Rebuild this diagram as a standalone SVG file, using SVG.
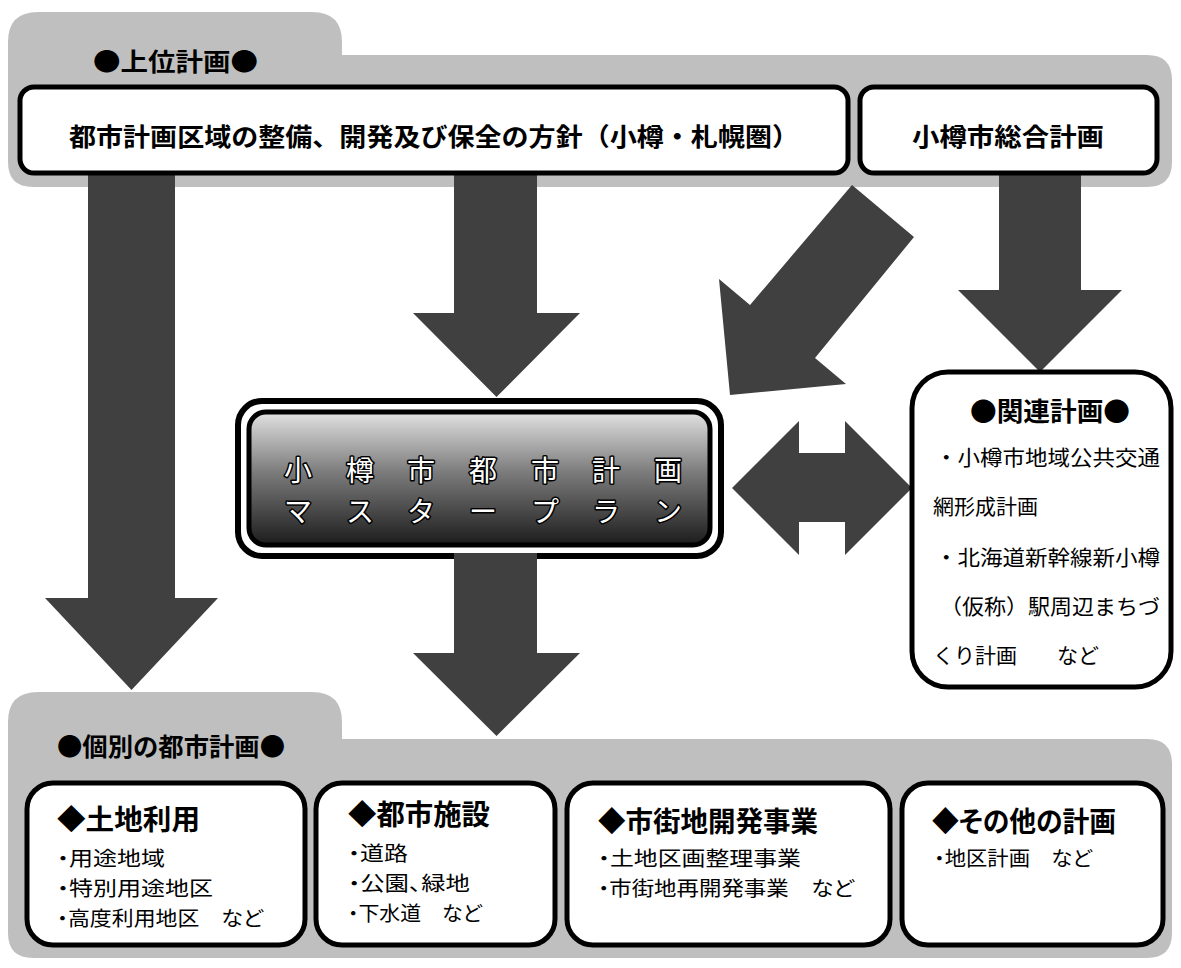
<svg xmlns="http://www.w3.org/2000/svg" width="1181" height="968" viewBox="0 0 1181 968">
<defs>
<style>
.t{font-family:"Noto Sans CJK JP","Noto Sans",sans-serif;fill:#000}
.b{font-weight:bold}
.p{font-feature-settings:"palt"}
.s{font-size:20.5px}
.panel{fill:#bfbfbf}
.box{fill:#fff;stroke:#000;stroke-width:5}
.arr{fill:#404040}
.mp{font-family:"Noto Sans CJK JP",sans-serif;font-size:28px;fill:#fff;stroke:#000;stroke-width:3;paint-order:stroke;stroke-linejoin:round;text-anchor:middle}
</style>
<linearGradient id="g" x1="0" y1="0" x2="0" y2="1">
<stop offset="0" stop-color="#e2e2e2"/>
<stop offset="0.45" stop-color="#7c7c7c"/>
<stop offset="1" stop-color="#1c1c1c"/>
</linearGradient>
</defs>
<rect width="1181" height="968" fill="#fff"/>

<g id="upper">
<path class="panel" d="M8,42 Q8,12 38,12 L312,12 Q342,12 342,42 L342,55 L1147,55 Q1172,55 1172,80 L1172,162 Q1172,187 1147,187 L33,187 Q8,187 8,162 Z"/>
<text class="t b" x="93" y="71" font-size="25" textLength="165" lengthAdjust="spacingAndGlyphs">●上位計画●</text>
</g>

<g id="lower">
<path class="panel" d="M8,722 Q8,692 38,692 L312,692 Q342,692 342,722 L342,739 L1147,739 Q1172,739 1172,764 L1172,933 Q1172,958 1147,958 L33,958 Q8,958 8,933 Z"/>
<text class="t b" x="57" y="756" font-size="25" textLength="228" lengthAdjust="spacingAndGlyphs">●個別の都市計画●</text>
</g>

<g id="connectors">
<polygon class="arr" points="88,172 175,172 175,598 218,598 131.5,690 45,598 88,598"/>
<polygon class="arr" points="454,172 537,172 537,313 580,313 496.5,397 413,313 454,313"/>
<polygon class="arr" points="999,172 1081,172 1081,290 1122,290 1040,372 958,290 999,290"/>
<polygon class="arr" points="852,185 914,237 815,358 846,384 730,395 719,279 750,305"/>
<polygon class="arr" points="732,488 799,421 799,453 845,453 845,421 912,488 845,555 845,522 799,522 799,555"/>
</g>

<g id="toshikeikaku-houshin">
<rect class="box" x="20" y="87" width="828" height="86" rx="14"/>
<text class="t b" x="434" y="146" font-size="25" text-anchor="middle" textLength="730" lengthAdjust="spacingAndGlyphs">都市計画区域の整備、開発及び保全の方針（小樽・札幌圏）</text>
</g>

<g id="sougou-keikaku">
<rect class="box" x="860" y="87" width="297" height="86" rx="14"/>
<text class="t b" x="1008" y="146" font-size="25" text-anchor="middle" textLength="192" lengthAdjust="spacingAndGlyphs">小樽市総合計画</text>
</g>

<g id="master-plan">
<rect x="238" y="401" width="483" height="155" rx="24" fill="#fff" stroke="#000" stroke-width="6"/>
<rect x="249" y="412" width="461" height="133" rx="17" fill="url(#g)" stroke="#000" stroke-width="5"/>
<text class="mp" y="481"><tspan x="298">小</tspan><tspan x="360">樽</tspan><tspan x="421">市</tspan><tspan x="483">都</tspan><tspan x="545">市</tspan><tspan x="606">計</tspan><tspan x="668">画</tspan></text>
<text class="mp" y="522"><tspan x="298">マ</tspan><tspan x="360">ス</tspan><tspan x="421">タ</tspan><tspan x="483">ー</tspan><tspan x="545">プ</tspan><tspan x="606">ラ</tspan><tspan x="668">ン</tspan></text>
</g>

<polygon class="arr" points="454,553 537,553 537,653 580,653 496.5,736 413,653 454,653"/>

<g id="kanren-keikaku">
<rect class="box" x="912" y="372" width="259" height="315" rx="36"/>
<text class="t b" x="1050" y="421" font-size="26" text-anchor="middle" textLength="160" lengthAdjust="spacingAndGlyphs">●関連計画●</text>
<text class="t" x="935" y="465" font-size="21" textLength="225" lengthAdjust="spacingAndGlyphs">・小樽市地域公共交通</text>
<text class="t" x="933" y="514" font-size="21">網形成計画</text>
<text class="t" x="935" y="565" font-size="21" textLength="225" lengthAdjust="spacingAndGlyphs">・北海道新幹線新小樽</text>
<text class="t" x="940" y="614" font-size="21" textLength="220" lengthAdjust="spacingAndGlyphs">（仮称）駅周辺まちづ</text>
<text class="t" x="933" y="663" font-size="21">くり計画<tspan x="1057">など</tspan></text>
</g>

<g id="tochi-riyou">
<rect class="box" x="27" y="783" width="278" height="162" rx="26"/>
<text class="t b p" x="57" y="830" font-size="28" textLength="143" lengthAdjust="spacingAndGlyphs">◆土地利用</text>
<text class="t p s" x="57" y="866" textLength="108" lengthAdjust="spacingAndGlyphs">・用途地域</text>
<text class="t p s" x="57" y="896" textLength="156" lengthAdjust="spacingAndGlyphs">・特別用途地区</text>
<text class="t p s" x="57" y="926" textLength="206" lengthAdjust="spacingAndGlyphs">・高度利用地区　など</text>
</g>

<g id="toshi-shisetsu">
<rect class="box" x="316" y="783" width="239" height="162" rx="26"/>
<text class="t b p" x="348" y="825" font-size="28" textLength="142" lengthAdjust="spacingAndGlyphs">◆都市施設</text>
<text class="t p s" x="348" y="861" textLength="60" lengthAdjust="spacingAndGlyphs">・道路</text>
<text class="t p s" x="348" y="891" textLength="122" lengthAdjust="spacingAndGlyphs">・公園、緑地</text>
<text class="t p s" x="348" y="921" textLength="134" lengthAdjust="spacingAndGlyphs">・下水道　など</text>
</g>

<g id="shigaichi-kaihatsu">
<rect class="box" x="567" y="783" width="323" height="162" rx="26"/>
<text class="t b p" x="598" y="832" font-size="28" textLength="220" lengthAdjust="spacingAndGlyphs">◆市街地開発事業</text>
<text class="t p s" x="598" y="866" textLength="203" lengthAdjust="spacingAndGlyphs">・土地区画整理事業</text>
<text class="t p s" x="598" y="896" textLength="256" lengthAdjust="spacingAndGlyphs">・市街地再開発事業　など</text>
</g>

<g id="sonota">
<rect class="box" x="902" y="783" width="261" height="162" rx="26"/>
<text class="t b p" x="932" y="832" font-size="28" textLength="184" lengthAdjust="spacingAndGlyphs">◆その他の計画</text>
<text class="t p s" x="934" y="866" textLength="158" lengthAdjust="spacingAndGlyphs">・地区計画　など</text>
</g>
</svg>
